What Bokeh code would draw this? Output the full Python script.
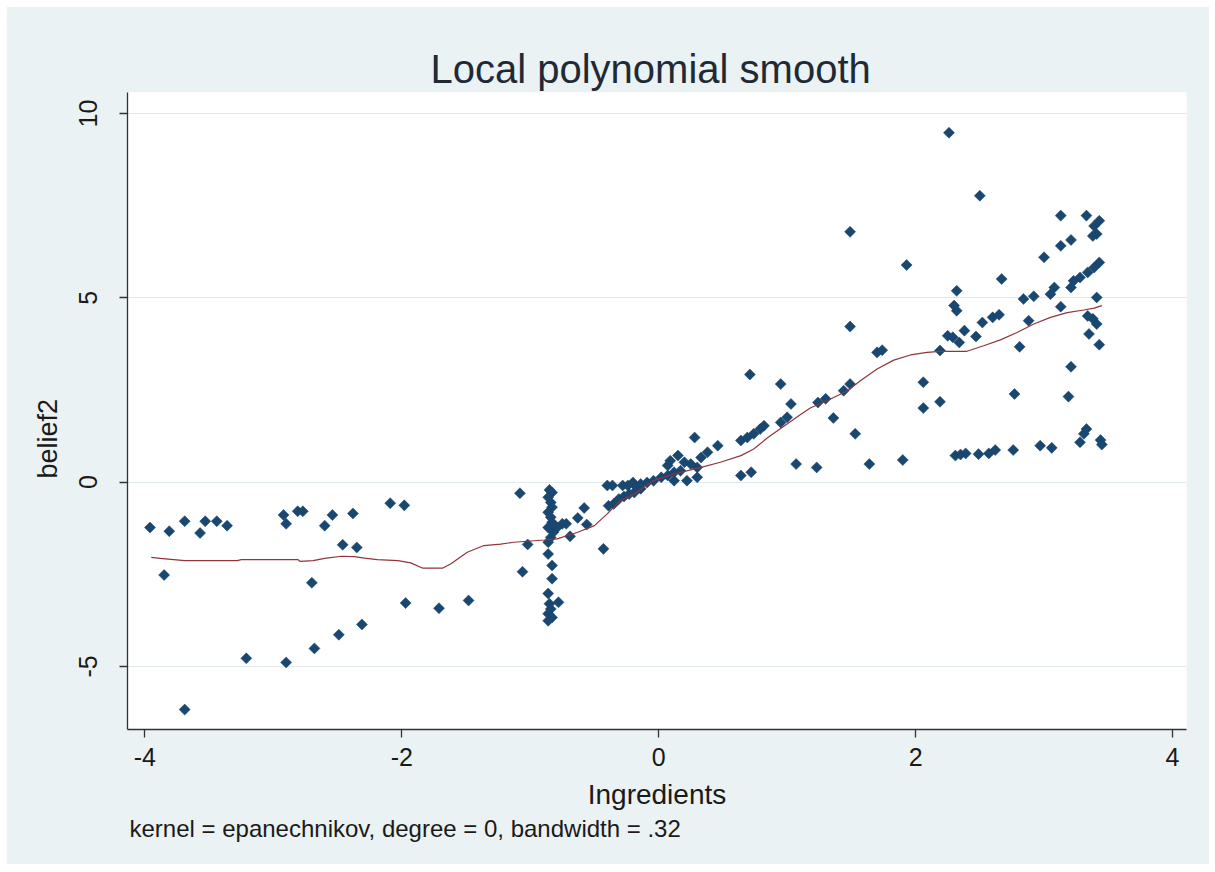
import numpy as np
from bokeh.plotting import figure
from bokeh.models import FixedTicker, Title
from bokeh.embed import file_html
from bokeh.resources import INLINE

# ---- data ----
ingredients = [
    -3.96, -3.81, -3.85, -3.69, -3.69, -3.57, -3.53, -3.44, -3.36, -3.21,
    -2.92, -2.90, -2.90, -2.81, -2.77, -2.70, -2.68, -2.60, -2.54, -2.49,
    -2.46, -2.38, -2.35, -2.31, -2.09, -1.98, -1.97, -1.71, -1.48,
    -1.08, -1.02, -1.06,
    -0.85, -0.83, -0.86, -0.84, -0.83, -0.86, -0.84, -0.83, -0.86, -0.82,
    -0.84, -0.86, -0.86, -0.83, -0.83, -0.86, -0.85, -0.84, -0.86, -0.83, -0.86,
    -0.79, -0.75, -0.72, -0.78, -0.69, -0.58, -0.63, -0.56, -0.43,
    -0.40, -0.36, -0.28, -0.20, -0.17, -0.39, -0.35, -0.31, -0.27, -0.23, -0.19,
    -0.24, -0.14, -0.09, -0.04, 0.02, 0.07, 0.12, 0.17, -0.14, 0.09,
    0.15, 0.20, 0.25, 0.30, 0.33, 0.38, 0.46, 0.30, 0.22, 0.12, 0.07, 0.28,
    0.64, 0.69, 0.74, 0.79, 0.82, 0.64, 0.72, 0.95, 1.00, 1.03, 1.07, 0.71,
    1.49, 1.49, 1.70, 1.74, 2.19, 0.95, 1.24, 1.30, 1.44, 1.49, 1.36, 1.53,
    1.23, 1.64, 1.90, 2.06, 2.06, 2.19,
    2.26, 2.50, 3.13, 3.33, 3.43, 3.39, 3.38, 3.41, 3.13, 3.21, 3.00, 1.93, 2.67, 2.32,
    3.43, 3.39, 3.34, 3.28, 3.23, 3.21, 3.08, 3.05, 3.41, 2.84, 2.92, 2.30, 2.32,
    2.25, 2.29, 2.34, 2.38, 2.47, 2.52, 2.60, 2.65, 3.13, 2.88, 2.81,
    3.34, 3.38, 3.41, 3.35, 3.43, 3.21, 3.19, 2.77,
    2.31, 2.35, 2.39, 2.49, 2.57, 2.62, 2.76, 2.97, 3.06, 3.28, 3.31, 3.33, 3.44, 3.45,
]
belief2 = [
    -1.23, -1.33, -2.52, -1.06, -6.17, -1.38, -1.06, -1.06, -1.18, -4.78,
    -0.89, -1.13, -4.89, -0.79, -0.79, -2.73, -4.51, -1.18, -0.89, -4.14,
    -1.70, -0.85, -1.77, -3.86, -0.57, -0.63, -3.28, -3.42, -3.21,
    -0.30, -1.69, -2.43,
    -0.21, -0.28, -0.41, -0.55, -0.68, -0.82, -0.95, -1.09, -1.23, -1.36,
    -1.50, -1.63, -1.95, -2.26, -2.62, -3.02, -3.30, -3.44, -3.57, -3.67, -3.76,
    -1.23, -1.13, -1.13, -3.26, -1.47, -0.70, -0.97, -1.15, -1.81,
    -0.09, -0.09, -0.09, -0.01, -0.14, -0.64, -0.59, -0.46, -0.39, -0.32, -0.28,
    -0.09, -0.05, -0.01, 0.04, 0.13, 0.18, 0.27, 0.31, -0.18, 0.58,
    0.72, 0.54, 0.49, 0.40, 0.67, 0.81, 0.99, 0.13, 0.04, 0.04, 0.45, 1.21,
    1.13, 1.21, 1.31, 1.44, 1.53, 0.18, 0.27, 1.62, 1.76, 2.12, 0.49, 2.92,
    4.22, 6.79, 3.52, 3.58, 3.57, 2.66, 2.16, 2.26, 2.48, 2.66, 1.74, 1.31,
    0.40, 0.49, 0.60, 2.71, 2.01, 2.18,
    9.48, 7.77, 7.23, 7.23, 7.09, 6.95, 6.68, 6.73, 6.41, 6.57, 6.10, 5.89, 5.51, 5.19,
    5.96, 5.82, 5.69, 5.55, 5.46, 5.28, 5.28, 5.10, 5.01, 4.97, 5.04, 4.79, 4.65,
    3.97, 3.93, 3.79, 4.11, 3.95, 4.33, 4.47, 4.54, 4.76, 4.38, 3.67,
    4.51, 4.43, 4.29, 4.02, 3.73, 3.13, 2.32, 2.39,
    0.72, 0.75, 0.78, 0.76, 0.78, 0.87, 0.87, 0.99, 0.93, 1.08, 1.31, 1.44, 1.14, 1.02,
]

smooth_x = [
    -3.95, -3.88, -3.69, -3.28, -3.25, -2.81, -2.79, -2.69, -2.60, -2.47,
    -2.37, -2.29, -2.19, -2.03, -1.93, -1.84, -1.68, -1.62, -1.49, -1.36,
    -1.23, -1.13, -0.89, -0.79, -0.63, -0.50, -0.40, -0.30, -0.19, -0.04,
    0.12, 0.33, 0.48, 0.64, 0.74, 0.85, 0.98, 1.11, 1.18, 1.31,
    1.47, 1.57, 1.70, 1.83, 1.96, 2.09, 2.19, 2.40, 2.53, 2.66,
    2.79, 2.92, 3.05, 3.18, 3.31, 3.39, 3.45,
]
smooth_y = [
    -2.04, -2.07, -2.13, -2.13, -2.10, -2.10, -2.15, -2.13, -2.07, -2.01,
    -2.02, -2.06, -2.10, -2.13, -2.19, -2.33, -2.33, -2.22, -1.90, -1.72,
    -1.68, -1.63, -1.57, -1.54, -1.36, -1.18, -0.86, -0.50, -0.32, 0.04,
    0.22, 0.40, 0.54, 0.72, 0.90, 1.21, 1.53, 1.85, 2.01, 2.21,
    2.48, 2.75, 3.07, 3.31, 3.45, 3.52, 3.55, 3.55, 3.70, 3.86,
    4.06, 4.29, 4.47, 4.60, 4.67, 4.72, 4.79,
]

x_ticks = [-4, -2, 0, 2, 4]
x_tick_labels = ["-4", "-2", "0", "2", "4"]
y_ticks = [-5, 0, 5, 10]
y_tick_labels = ["-5", "0", "5", "10"]

title_text = "Local polynomial smooth"
x_title = "Ingredients"
y_title = "belief2"
note_text = "kernel = epanechnikov, degree = 0, bandwidth = .32"

assert len(ingredients) == len(belief2)
assert len(smooth_x) == len(smooth_y)

# ---- styling ----
FONT = "Liberation Sans"
BG = "#EAF2F3"
NAVY = "#1A476F"
MAROON = "#90353B"
TXT = "#1a1a1a"

X0, X1 = -4.135, 4.109
Y0, Y1 = -6.71, 10.57

p = figure(
    width=1203, height=858,
    x_range=(X0, X1), y_range=(Y0, Y1),
    output_backend="svg", toolbar_location=None,
    min_border_left=121, min_border_right=23,
    min_border_top=86, min_border_bottom=135,
)
p.margin = (6, 0, 0, 6)
p.border_fill_color = BG
p.background_fill_color = "white"
p.outline_line_color = None

# main title (left-aligned + offset so it can sit slightly left of centre)
p.title.text = title_text
p.title.align = "left"
p.title.offset = 303
p.title.standoff = 4
p.title.text_font = FONT
p.title.text_font_size = "40px"
p.title.text_font_style = "normal"
p.title.text_color = "#1F2A36"

p.xaxis.ticker = FixedTicker(ticks=x_ticks)
p.yaxis.ticker = FixedTicker(ticks=y_ticks)
p.xaxis.major_label_overrides = dict(zip(x_ticks, x_tick_labels))
p.yaxis.major_label_overrides = dict(zip(y_ticks, y_tick_labels))
for ax in (p.xaxis[0], p.yaxis[0]):
    ax.axis_line_color = "#333333"
    ax.axis_line_width = 1.3
    ax.major_tick_line_color = "#333333"
    ax.major_tick_line_width = 1.3
    ax.major_tick_out = 8
    ax.major_tick_in = 0
    ax.minor_tick_out = 0
    ax.minor_tick_in = 0
    ax.major_label_text_font = FONT
    ax.major_label_text_font_size = "25px"
    ax.major_label_text_color = TXT
    ax.axis_label_text_font = FONT
    ax.axis_label_text_font_size = "28px"
    ax.axis_label_text_font_style = "normal"
    ax.axis_label_text_color = TXT
p.xaxis.major_label_standoff = 10
p.xaxis.axis_label = x_title
p.xaxis.axis_label_standoff = 10
p.yaxis.major_label_orientation = "vertical"
p.yaxis.major_label_standoff = 22

# y title as a left-side title, placed along the axis with an offset
p.add_layout(Title(text=y_title, align="left", offset=251, standoff=28,
                   text_font=FONT, text_font_size="27px",
                   text_font_style="normal", text_color=TXT), "left")
# note below the x axis title
p.add_layout(Title(text=note_text, align="left", offset=2, standoff=0,
                   text_font=FONT, text_font_size="24px",
                   text_font_style="normal", text_color=TXT), "below")

p.xgrid.visible = False
p.ygrid.ticker = FixedTicker(ticks=y_ticks)
p.ygrid.grid_line_color = "#E0E8EB"
p.ygrid.grid_line_width = 1

p.scatter(ingredients, belief2, marker="square", angle=np.pi / 4, size=7.8,
          fill_color=NAVY, line_color=NAVY, line_width=0.5)
p.line(smooth_x, smooth_y, line_color=MAROON, line_width=1.2)

open("out.html", "w").write(file_html(p, INLINE))
